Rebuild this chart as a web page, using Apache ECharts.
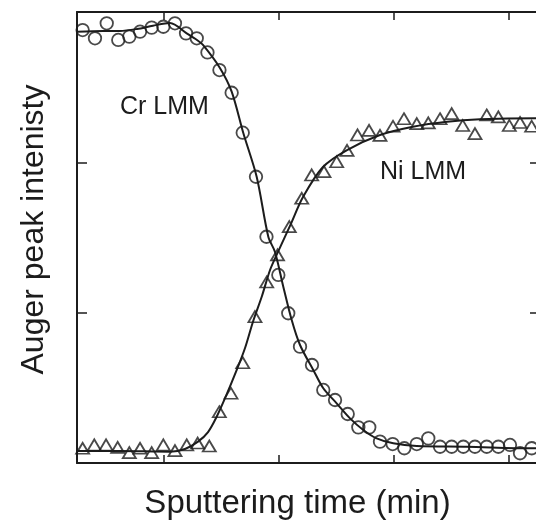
<!DOCTYPE html>
<html>
<head>
<meta charset="utf-8">
<script src="https://cdn.jsdelivr.net/npm/echarts@6/dist/echarts.min.js"></script>
<style>html,body{margin:0;padding:0;background:#fff;}#c{width:536px;height:527px;}</style>
</head>
<body>
<div id="c"></div>
<script>
// Cr LMM measured points (circles)
const crX = [0.049,0.156,0.258,0.358,0.454,0.547,0.648,0.749,0.850,0.946,1.039,1.132,1.236,1.342,1.438,1.553,1.644,1.747,1.833,1.935,2.039,2.137,2.239,2.349,2.441,2.536,2.629,2.739,2.840,2.948,3.048,3.150,3.251,3.352,3.453,3.555,3.656,3.757,3.844,3.945];
const crY = [2.880,2.825,2.925,2.814,2.836,2.869,2.896,2.902,2.925,2.858,2.825,2.731,2.614,2.463,2.197,1.904,1.505,1.251,0.996,0.774,0.652,0.486,0.419,0.326,0.237,0.237,0.142,0.126,0.098,0.126,0.164,0.108,0.108,0.108,0.108,0.108,0.108,0.120,0.065,0.098];
// Ni LMM measured points (triangles)
const niX = [0.049,0.150,0.252,0.353,0.454,0.547,0.648,0.749,0.850,0.952,1.047,1.148,1.235,1.336,1.438,1.544,1.646,1.740,1.842,1.950,2.036,2.143,2.253,2.343,2.434,2.534,2.629,2.742,2.837,2.948,3.048,3.150,3.251,3.347,3.453,3.555,3.656,3.751,3.844,3.945];
const niY = [0.098,0.120,0.120,0.104,0.069,0.098,0.069,0.120,0.082,0.120,0.133,0.113,0.341,0.464,0.667,0.973,1.204,1.384,1.572,1.761,1.916,1.938,2.004,2.080,2.182,2.213,2.179,2.240,2.290,2.257,2.262,2.290,2.324,2.245,2.191,2.315,2.302,2.245,2.265,2.240];
// fitted curves
const crFitX = [0,0.226,0.373,0.521,0.659,0.807,0.952,1.041,1.093,1.240,1.342,1.443,1.559,1.660,1.718,1.790,1.863,1.935,2.050,2.137,2.253,2.369,2.484,2.600,2.744,2.948,3.381,3.957,4.0];
const crFitY = [2.869,2.874,2.874,2.887,2.909,2.927,2.858,2.814,2.781,2.628,2.470,2.195,1.904,1.505,1.404,1.173,0.951,0.785,0.619,0.497,0.397,0.297,0.220,0.164,0.131,0.113,0.108,0.098,0.098];
const niFitX = [0,0.373,0.807,0.937,1.050,1.137,1.212,1.293,1.386,1.458,1.527,1.605,1.675,1.744,1.848,1.961,2.134,2.343,2.629,2.915,3.210,3.497,3.983,4.0];
const niFitY = [0.080,0.080,0.075,0.093,0.142,0.206,0.308,0.446,0.619,0.765,0.940,1.111,1.284,1.404,1.577,1.769,1.969,2.082,2.182,2.237,2.270,2.286,2.293,2.293];
const xTicks = [0.75,1.75,2.75,3.75];

const zip = (a,b) => a.map((v,i)=>[v,b[i]]);
const ink = '#1c1c1c';
const chart = echarts.init(document.getElementById('c'), null, {renderer:'canvas'});
const axisCommon = {
  axisLine:{show:true,onZero:false,lineStyle:{color:ink,width:2}},
  axisLabel:{show:false},
  splitLine:{show:false}
};
chart.setOption({
  animation:false,
  backgroundColor:'#fff',
  grid:{left:77,right:-2,top:12,bottom:64,containLabel:false,outerBoundsMode:'none'},
  xAxis:[
    Object.assign({type:'value',min:0,max:4,position:'bottom',
      name:'Sputtering time (min)',nameLocation:'middle',nameGap:24,
      nameTextStyle:{fontFamily:'Liberation Sans, Arial',fontSize:33,color:ink,padding:[0,20,0,0]},
      axisTick:{show:true,inside:true,length:8,customValues:xTicks,lineStyle:{color:ink,width:1.5}}},axisCommon),
    Object.assign({type:'value',min:0,max:4,position:'top',
      axisTick:{show:true,inside:true,length:8,customValues:xTicks,lineStyle:{color:ink,width:1.5}}},axisCommon)
  ],
  yAxis:[
    Object.assign({type:'value',min:0,max:3,interval:1,position:'left',
      name:'Auger peak intenisty',nameLocation:'middle',nameGap:27,nameRotate:90,
      nameTextStyle:{fontFamily:'Liberation Sans, Arial',fontSize:32,color:ink,padding:[0,0,0,16]},
      axisTick:{show:true,inside:true,length:10,lineStyle:{color:ink,width:1.5}}},axisCommon),
    Object.assign({type:'value',min:0,max:3,interval:1,position:'right',
      axisTick:{show:true,inside:true,length:8,lineStyle:{color:ink,width:1.5}}},axisCommon)
  ],
  graphic:[
    {type:'text',left:120,top:95,style:{text:'Cr LMM',font:'25px "Liberation Sans", Arial',fill:ink}},
    {type:'text',left:380,top:160,style:{text:'Ni LMM',font:'25px "Liberation Sans", Arial',fill:ink}}
  ],
  series:[
    {type:'line',data:zip(crFitX,crFitY),smooth:0.3,showSymbol:false,lineStyle:{color:ink,width:2},z:2},
    {type:'line',data:zip(niFitX,niFitY),smooth:0.3,showSymbol:false,lineStyle:{color:ink,width:2},z:2},
    {type:'scatter',data:zip(crX,crY),symbol:'circle',symbolSize:12.5,
      itemStyle:{color:'rgba(255,255,255,0)',borderColor:ink,borderWidth:1.8},z:3},
    {type:'scatter',data:zip(niX,niY),symbol:'triangle',symbolSize:[13,11],
      itemStyle:{color:'rgba(255,255,255,0)',borderColor:ink,borderWidth:1.8},z:3}
  ]
});
</script>
</body>
</html>
